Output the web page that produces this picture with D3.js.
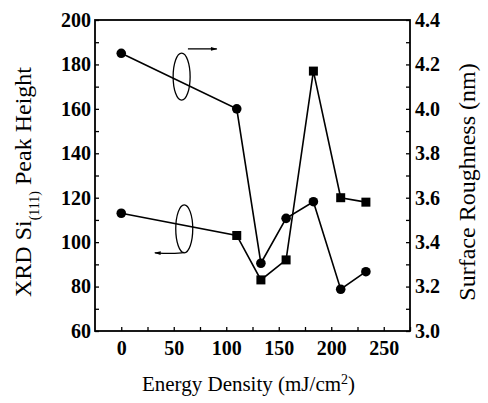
<!DOCTYPE html>
<html>
<head>
<meta charset="utf-8">
<script src="https://cdn.jsdelivr.net/npm/d3@7"></script>
<style>
  body { margin: 0; background: #fff; }
</style>
</head>
<body>
<div id="graphicContainer"></div>
<script>
// energy density (mJ/cm2)
var energy = [0, 110, 133, 157, 183, 209, 233]
// XRD Si(111) peak height, left axis (squares)
var peakHeight = [113, 103, 83, 92, 177, 120, 118]
var peakShape = ["circle", "square", "square", "square", "square", "square", "square"]
// surface roughness (nm), right axis (circles)
var roughness = [4.25, 4.0, 3.305, 3.507, 3.582, 3.188, 3.267]

var xTicks = [0, 50, 100, 150, 200, 250]
var leftTicks = [60, 80, 100, 120, 140, 160, 180, 200]
var rightTicks = [3.0, 3.2, 3.4, 3.6, 3.8, 4.0, 4.2, 4.4]

var serif = "Liberation Serif"

var width = 488, height = 403
var margin = {top: 20, right: 78, bottom: 72, left: 95}
var w = width - margin.left - margin.right
var h = height - margin.top - margin.bottom

var svg = d3.select("#graphicContainer").append("svg")
	.attr("width", width)
	.attr("height", height)

var x = d3.scaleLinear().domain([-25, 275]).range([margin.left, margin.left + w])
var yL = d3.scaleLinear().domain([60, 200]).range([margin.top + h, margin.top])
var yR = d3.scaleLinear().domain([3.0, 4.4]).range([margin.top + h, margin.top])

// frame
svg.append("rect")
	.attr("x", margin.left).attr("y", margin.top)
	.attr("width", w).attr("height", h)
	.attr("fill", "none").attr("stroke", "#000").attr("stroke-width", 1.8)

// axes, ticks pointing inward
var bottom = svg.append("g")
	.attr("transform", "translate(0," + (margin.top + h) + ")")
	.call(d3.axisBottom(x).tickValues(d3.range(0, 276, 25)).tickSize(-4).tickFormat(d => xTicks.includes(d) ? d : ""))
bottom.selectAll("text").attr("dy", 21)

var left = svg.append("g")
	.attr("transform", "translate(" + margin.left + ",0)")
	.call(d3.axisLeft(yL).tickValues(d3.range(60, 201, 10)).tickSize(-4).tickFormat(d => leftTicks.includes(d) ? d : ""))
left.selectAll("text").attr("x", -4)

var right = svg.append("g")
	.attr("transform", "translate(" + (margin.left + w) + ",0)")
	.call(d3.axisRight(yR).tickValues(d3.range(30, 45, 1).map(d => d / 10)).tickSize(-4)
		.tickFormat(d => rightTicks.some(t => Math.abs(t - d) < 1e-6) ? d3.format(".1f")(d) : ""))
right.selectAll("text").attr("x", 5)

svg.selectAll("g").attr("font-family", serif)
svg.selectAll(".tick text")
	.attr("font-family", serif)
	.attr("font-size", 20)
	.attr("font-weight", "bold")
	.attr("fill", "#000")
svg.selectAll(".domain").remove()
svg.selectAll(".tick line").attr("stroke", "#000").attr("stroke-width", 1.3)

// lines
var peakLine = d3.line().x((d, i) => x(energy[i])).y(d => yL(d))
var roughLine = d3.line().x((d, i) => x(energy[i])).y(d => yR(d))

svg.append("path").datum(peakHeight)
	.attr("d", peakLine).attr("fill", "none").attr("stroke", "#000").attr("stroke-width", 1.6)
svg.append("path").datum(roughness)
	.attr("d", roughLine).attr("fill", "none").attr("stroke", "#000").attr("stroke-width", 1.6)

// markers
svg.selectAll(".rough")
	.data(roughness).enter()
	.append("circle")
	.attr("cx", (d, i) => x(energy[i]))
	.attr("cy", d => yR(d))
	.attr("r", 4.8)
	.attr("fill", "#000")

var peakPts = peakHeight.map((d, i) => ({v: d, e: energy[i], s: peakShape[i]}))

svg.selectAll(".peakCirc")
	.data(peakPts.filter(d => d.s == "circle"))
	.enter().append("circle")
	.attr("cx", d => x(d.e))
	.attr("cy", d => yL(d.v))
	.attr("r", 4.8)
	.attr("fill", "#000")

svg.selectAll(".peakSq")
	.data(peakPts.filter(d => d.s == "square"))
	.enter().append("rect")
	.attr("x", d => x(d.e) - 4.5)
	.attr("y", d => yL(d.v) - 4.5)
	.attr("width", 9).attr("height", 9)
	.attr("fill", "#000")

// ellipse + arrow annotations (positions in data units of left axis)
var defs = svg.append("defs")
defs.append("marker").attr("id", "head")
	.attr("viewBox", "0 0 10 10").attr("refX", 9).attr("refY", 5)
	.attr("markerWidth", 7).attr("markerHeight", 5).attr("orient", "auto")
	.append("path").attr("d", "M0,2L10,5L0,8z").attr("fill", "#000")

svg.append("ellipse")
	.attr("cx", x(57.5)).attr("cy", yL(174.5))
	.attr("rx", 8.5).attr("ry", 23.5)
	.attr("fill", "none").attr("stroke", "#000").attr("stroke-width", 1.3)
svg.append("line")
	.attr("x1", x(63.5)).attr("y1", yL(187)).attr("x2", x(91)).attr("y2", yL(187))
	.attr("stroke", "#000").attr("stroke-width", 1.3).attr("marker-end", "url(#head)")

svg.append("ellipse")
	.attr("cx", x(60)).attr("cy", yL(106))
	.attr("rx", 8.5).attr("ry", 24)
	.attr("fill", "none").attr("stroke", "#000").attr("stroke-width", 1.3)
svg.append("path")
	.attr("d", "M" + x(60) + "," + yL(95.4) + " Q" + x(52) + "," + yL(94.6) + " " + x(32) + "," + yL(95.2))
	.attr("fill", "none").attr("stroke", "#000").attr("stroke-width", 1.3).attr("marker-end", "url(#head)")

// axis titles
svg.append("text")
	.attr("x", margin.left + w / 2 - 4).attr("y", 391)
	.attr("text-anchor", "middle")
	.attr("font-family", serif).attr("font-size", 21)
	.html('Energy Density (mJ/cm<tspan dy="-7" font-size="14">2</tspan><tspan dy="7">)</tspan>')

svg.append("text")
	.attr("transform", "translate(31,182) rotate(-90)")
	.attr("text-anchor", "middle")
	.attr("font-family", serif).attr("font-size", 24)
	.html('XRD Si<tspan dy="8" font-size="14">(111)</tspan><tspan dy="-8"> Peak Height</tspan>')

svg.append("text")
	.attr("transform", "translate(475,182) rotate(-90)")
	.attr("text-anchor", "middle")
	.attr("font-family", serif).attr("font-size", 24)
	.text("Surface Roughness (nm)")
</script>
</body>
</html>
